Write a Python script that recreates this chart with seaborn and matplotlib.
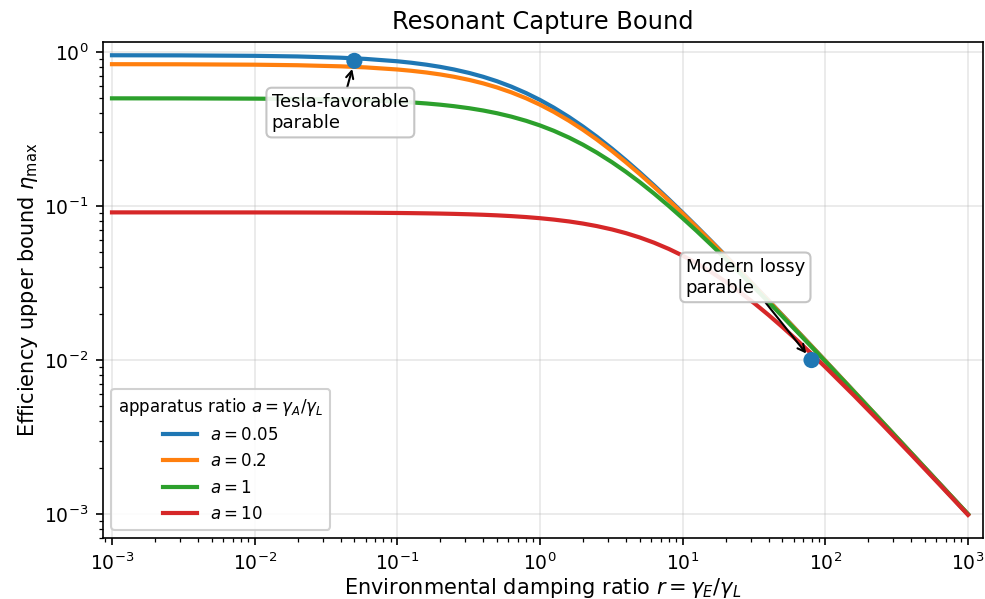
import matplotlib
matplotlib.use("Agg")
import matplotlib.pyplot as plt
import seaborn as sns
import pandas as pd

plt.rcParams['font.family'] = ['DejaVu Sans']

r_vals = [0.001, 0.003, 0.01, 0.02, 0.04, 0.06, 0.1, 0.125, 0.16, 0.2, 0.25, 0.32,
          0.4, 0.5, 0.63, 0.8, 1, 1.25, 1.6, 2, 2.5, 3.2, 4, 5, 6.3, 8, 10, 12.5,
          16, 20, 25, 32, 40, 50, 63, 80, 100, 160, 250, 400, 630, 1000]
eta_a005 = [0.9515, 0.9497, 0.9434, 0.9346, 0.9174, 0.9009, 0.8696, 0.8511, 0.8264,
            0.8, 0.7692, 0.7299, 0.6897, 0.6452, 0.5952, 0.5405, 0.4878, 0.4348,
            0.3774, 0.3279, 0.2817, 0.2353, 0.1980, 0.1653, 0.1361, 0.1105, 0.0905,
            0.0738, 0.05865, 0.04751, 0.03839, 0.03026, 0.02436, 0.01959, 0.01561,
            0.01234, 0.009896, 0.006209, 0.003983, 0.002493, 0.001585, 0.000999]
eta_a02 = [0.8326, 0.8313, 0.8264, 0.8197, 0.8065, 0.7937, 0.7692, 0.7547, 0.7353,
           0.7143, 0.6897, 0.6579, 0.625, 0.5882, 0.5464, 0.5, 0.4545, 0.4082,
           0.3571, 0.3125, 0.2703, 0.2273, 0.1923, 0.1613, 0.1333, 0.1087, 0.0893,
           0.0730, 0.05814, 0.04717, 0.03817, 0.03012, 0.02427, 0.01953, 0.01558,
           0.01232, 0.009881, 0.006203, 0.003981, 0.002493, 0.001584, 0.000999]
eta_a1 = [0.4998, 0.4993, 0.4975, 0.4950, 0.4902, 0.4854, 0.4762, 0.4706, 0.4630,
          0.4545, 0.4444, 0.4310, 0.4167, 0.4, 0.3802, 0.3571, 0.3333, 0.3077,
          0.2778, 0.25, 0.2222, 0.1923, 0.1667, 0.1429, 0.1205, 0.1, 0.0833,
          0.0690, 0.05556, 0.04545, 0.03704, 0.02941, 0.02381, 0.01923, 0.01538,
          0.01220, 0.009804, 0.006173, 0.003968, 0.002488, 0.001582, 0.000998]
eta_a10 = [0.09090, 0.09088, 0.09083, 0.09074, 0.09058, 0.09042, 0.09009, 0.08989,
           0.08961, 0.08929, 0.08889, 0.08834, 0.08772, 0.08696, 0.08598, 0.08475,
           0.08333, 0.08163, 0.07937, 0.07692, 0.07407, 0.07042, 0.06667, 0.0625,
           0.05780, 0.05263, 0.04762, 0.04255, 0.03704, 0.03226, 0.02778, 0.02326,
           0.01961, 0.01639, 0.01351, 0.01099, 0.009009, 0.005848, 0.003831,
           0.002433, 0.001560, 0.000989]
labels = [r"$a = 0.05$", r"$a = 0.2$", r"$a = 1$", r"$a = 10$"]
series = [eta_a005, eta_a02, eta_a1, eta_a10]

mark_r = [0.05, 80]
mark_eta = [0.875, 0.01]
mark_text = ["Tesla-favorable\nparable", "Modern lossy\nparable"]

rows = []
for lab, vals in zip(labels, series):
    for r, e in zip(r_vals, vals):
        rows.append({"r": r, "eta": e, "a": lab})
df = pd.DataFrame(rows)

colors = ["#1f77b4", "#ff7f0e", "#2ca02c", "#d62728"]
fig, ax = plt.subplots(figsize=(985 / 150, 599 / 150), dpi=150)
sns.lineplot(data=df, x="r", y="eta", hue="a", palette=colors, linewidth=2.0, ax=ax)
ax.set_xscale("log")
ax.set_yscale("log")
sns.scatterplot(x=mark_r, y=mark_eta, color="#1f77b4", s=60, zorder=5, ax=ax,
                edgecolor="none")

ax.set_xlim(0.000865, 1274)
ax.set_ylim(7.0e-4, 1.16)
ax.grid(True, which="major", alpha=0.3)

bbox = dict(boxstyle="round,pad=0.3", fc="white", ec="0.75", alpha=0.9)
ax.annotate(mark_text[0], xy=(mark_r[0], mark_eta[0]), xytext=(0.0132, 0.54),
            ha="left", va="top", fontsize=8.7, bbox=bbox,
            arrowprops=dict(arrowstyle="->", color="black", lw=1.0, shrinkA=0, shrinkB=4))
ax.annotate(mark_text[1], xy=(mark_r[1], mark_eta[1]), xytext=(10.5, 0.046),
            ha="left", va="top", fontsize=8.7, bbox=bbox,
            arrowprops=dict(arrowstyle="->", color="black", lw=1.0, shrinkA=0, shrinkB=4))

ax.set_xlabel(r"Environmental damping ratio $r=\gamma_E/\gamma_L$", fontsize=10, labelpad=1)
ax.set_ylabel(r"Efficiency upper bound $\eta_{\max}$", fontsize=10, labelpad=2)
ax.set_title("Resonant Capture Bound", fontsize=11.6)
ax.tick_params(labelsize=9)
leg = ax.legend(title=r"apparatus ratio $a=\gamma_A/\gamma_L$", loc="lower left",
                fontsize=8, title_fontsize=8, framealpha=0.9)

fig.subplots_adjust(left=103 / 985, right=983 / 985, top=1 - 42 / 599, bottom=1 - 538 / 599)
fig.savefig("out.png", dpi=150)
